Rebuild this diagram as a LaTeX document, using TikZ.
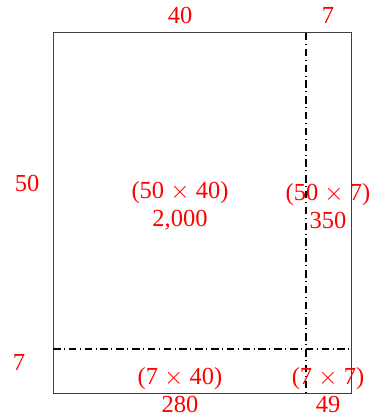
\documentclass[tikz,border=0pt]{standalone}
\usepackage{fontspec}
\setmainfont{Liberation Serif}
\usepackage{tikz}
\usetikzlibrary{positioning, calc}

\begin{document}
\begin{tikzpicture}[
    x=1pt, y=-1pt,
    dim/.style={text=red, font=\fontsize{24.5}{28}\selectfont, inner sep=0pt, align=center},
    frame/.style={draw=black!75, line width=1pt},
    cutline/.style={draw=black, line width=2.8pt, dash pattern=on 7.5pt off 3.5pt on 0.8pt off 4pt}
]
\useasboundingbox (0,0) rectangle (370,419);

% outer rectangle and split points
\coordinate (tl) at (53,33);
\coordinate (br) at (351,393);
\coordinate (vtop) at (306,33);
\coordinate (vbot) at (306,393);
\coordinate (hleft) at (53,349);
\coordinate (hright) at (351,349);
\draw[frame] (tl) rectangle (br);
\draw[cutline] (vtop) -- (vbot);
\draw[cutline] (hleft) -- (hright);

% side lengths
\node[dim] (top40) at (180,15) {40};
\node[dim] (top7) at (328,15) {7};
\node[dim] (left50) at (27,183) {50};
\node[dim] (left7) at (19,362) {7};

% areas
\node[dim] (big) at (180,206) {(50 $\times$ 40)\\2,000};
\node[dim] (strip) at (328,206) {(50 $\times$ 7)\\350};
\node[dim] (base) at (180,390) {(7 $\times$ 40)\\280};
\node[dim] (corner) at (328,390) {(7 $\times$ 7)\\49};
\end{tikzpicture}
\end{document}
